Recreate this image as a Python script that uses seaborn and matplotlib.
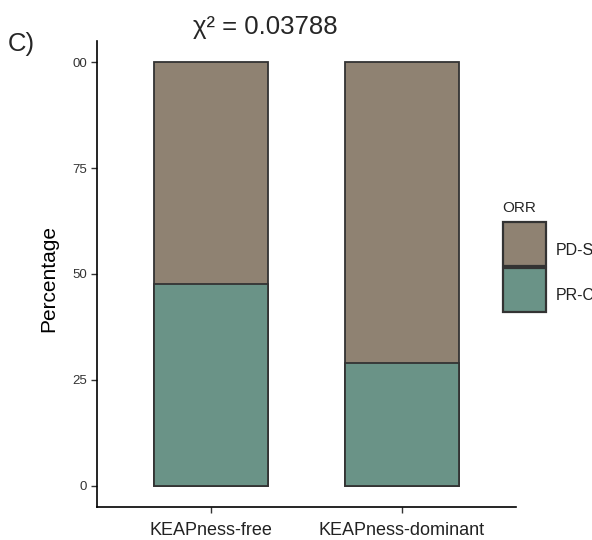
import matplotlib
matplotlib.use("Agg")
import matplotlib.pyplot as plt
import seaborn as sns
import pandas as pd
from matplotlib.patches import Rectangle

groups = ["KEAPness-free", "KEAPness-dominant"]
pr_cr = [47.6, 29.0]
pd_sd = [52.4, 71.0]
ytick_vals = [0, 25, 50, 75, 100]
ytick_labels = ["0", "25", "50", "75", "00"]
legend_order = ["PD-SD", "PR-CR"]
colors = {"PD-SD": "#8f8272", "PR-CR": "#6a9387"}

df = pd.DataFrame({"group": groups, "PR-CR": pr_cr, "PD-SD": pd_sd})
df["total"] = df["PR-CR"] + df["PD-SD"]

sns.set_style("white")
plt.rcParams["font.family"] = ["Liberation Sans", "DejaVu Sans"]

W, H = 592, 540
fig = plt.figure(figsize=(W/100, H/100), dpi=100)
ax = fig.add_axes([97/W, 1-507/H, (516-97)/W, (507-41)/H])

sns.barplot(data=df, x="group", y="total", color=colors["PD-SD"], width=0.6,
            edgecolor="#333333", linewidth=1.3, ax=ax, saturation=1)
sns.barplot(data=df, x="group", y="PR-CR", color=colors["PR-CR"], width=0.6,
            edgecolor="#333333", linewidth=1.3, ax=ax, saturation=1)

ax.set_xlim(-0.6, 1.6)
ax.set_ylim(-5, 105)
ax.set_yticks(ytick_vals)
ax.set_yticklabels(ytick_labels)
ax.set_xlabel("")
ax.set_ylabel("Percentage", fontsize=15, color="black")
ax.yaxis.set_label_coords(-0.092, 0.49)
for s in ["top", "right"]:
    ax.spines[s].set_visible(False)
for s in ["left", "bottom"]:
    ax.spines[s].set_color("black")
    ax.spines[s].set_linewidth(1.2)
ax.tick_params(axis="y", length=4, width=1, color="#333333", labelsize=9.5, labelcolor="#333333", direction="out", left=True, pad=3)
ax.tick_params(axis="x", length=4, width=1, color="#333333", labelsize=13, labelcolor="#222222", direction="out", bottom=True, pad=7)

fig.text(265/W, 1-27/H, "χ² = 0.03788", ha="center", va="center", fontsize=18.5)
fig.text(8/W, 1-44/H, "C)", ha="left", va="center", fontsize=18.5)

# legend
fig.text(502/W, 1-208/H, "ORR", ha="left", va="center", fontsize=11)
key_tops = [222, 268]
for lab, top in zip(legend_order, key_tops):
    fig.patches.append(Rectangle((503/W, 1-(top+44)/H), 43/W, 44/H, transform=fig.transFigure,
                                 facecolor=colors[lab], edgecolor="#333333", linewidth=1.6))
    fig.text(556/W, 1-(top+28)/H, lab, ha="left", va="center", fontsize=11.5, color="#222222")

fig.savefig("out.png", dpi=100)
